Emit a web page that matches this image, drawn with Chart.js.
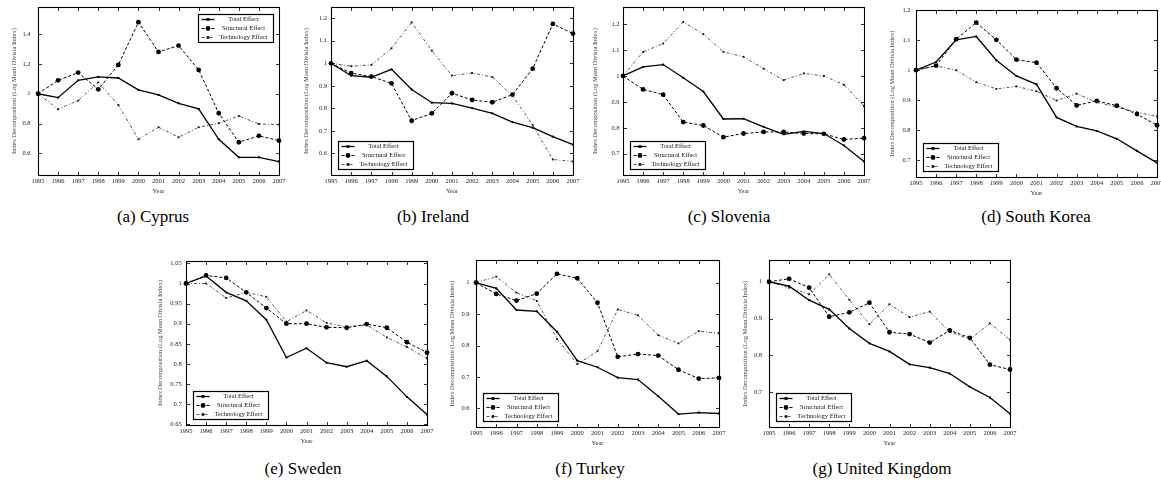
<!DOCTYPE html>
<html><head><meta charset="utf-8">
<script src="https://cdn.jsdelivr.net/npm/chart.js@4.4.0/dist/chart.umd.min.js"></script>
<style>
html,body{margin:0;padding:0;background:#fff;width:1161px;height:483px;overflow:hidden;position:relative}
canvas{position:absolute}
.cap{position:absolute;font-family:"Liberation Serif","DejaVu Serif",serif;font-size:17px;color:#000;white-space:nowrap;transform:translate(-50%,-50%);line-height:1}
</style></head><body>
<script>
// ---------- data ----------
const years = ['1995','1996','1997','1998','1999','2000','2001','2002','2003','2004','2005','2006','2007'];
const seriesNames = ['Total Effect','Structural Effect','Technology Effect'];
const yTitle = 'Index Decomposition (Log Mean Divisia Index)';
const xTitle = 'Year';

const cyprusTotal      = [1.0,0.974,1.09,1.113,1.106,1.026,0.992,0.936,0.898,0.694,0.573,0.573,0.544];
const cyprusStructural = [1.0,1.09,1.142,1.03,1.194,1.481,1.281,1.324,1.16,0.869,0.674,0.717,0.685];
const cyprusTechnology = [1.0,0.896,0.954,1.076,0.925,0.694,0.775,0.708,0.775,0.802,0.851,0.797,0.793];

const irelandTotal      = [1.0,0.945,0.938,0.973,0.884,0.825,0.822,0.801,0.778,0.739,0.714,0.674,0.639];
const irelandStructural = [1.0,0.956,0.941,0.911,0.745,0.778,0.867,0.837,0.827,0.861,0.976,1.175,1.132];
const irelandTechnology = [1.0,0.987,0.993,1.067,1.182,1.056,0.945,0.957,0.939,0.856,0.726,0.573,0.564];

const sloveniaTotal      = [1.0,1.035,1.044,0.993,0.94,0.834,0.835,0.804,0.775,0.786,0.778,0.732,0.67];
const sloveniaStructural = [1.0,0.948,0.928,0.822,0.809,0.764,0.778,0.784,0.784,0.778,0.777,0.755,0.76];
const sloveniaTechnology = [1.0,1.093,1.125,1.208,1.161,1.093,1.074,1.028,0.984,1.01,1.0,0.966,0.884];

const koreaTotal      = [1.0,1.027,1.101,1.112,1.033,0.981,0.953,0.843,0.813,0.798,0.772,0.732,0.692];
const koreaStructural = [1.0,1.015,1.103,1.158,1.101,1.035,1.025,0.94,0.883,0.898,0.882,0.854,0.817];
const koreaTechnology = [1.0,1.014,1.0,0.96,0.938,0.946,0.93,0.899,0.922,0.893,0.877,0.86,0.846];

const swedenTotal      = [1.0,1.019,0.978,0.957,0.91,0.816,0.839,0.803,0.793,0.808,0.769,0.718,0.674];
const swedenStructural = [1.0,1.02,1.014,0.978,0.939,0.9,0.9,0.891,0.89,0.899,0.89,0.854,0.828];
const swedenTechnology = [1.0,1.0,0.964,0.978,0.967,0.905,0.933,0.902,0.892,0.897,0.866,0.842,0.814];

const turkeyTotal      = [1.0,0.982,0.913,0.909,0.844,0.752,0.731,0.698,0.692,0.639,0.582,0.587,0.584];
const turkeyStructural = [1.0,0.964,0.943,0.965,1.028,1.014,0.936,0.764,0.773,0.768,0.723,0.695,0.697];
const turkeyTechnology = [1.0,1.019,0.968,0.942,0.821,0.741,0.782,0.915,0.896,0.833,0.807,0.846,0.839];

const ukTotal      = [1.0,0.988,0.95,0.925,0.873,0.833,0.811,0.776,0.767,0.751,0.715,0.686,0.642];
const ukStructural = [1.0,1.008,0.984,0.905,0.917,0.943,0.863,0.858,0.835,0.868,0.848,0.775,0.762];
const ukTechnology = [1.0,0.984,0.966,1.02,0.951,0.885,0.939,0.904,0.919,0.864,0.844,0.887,0.843];

const cyprusTicks = [0.6,0.8,1,1.2,1.4];
const cyprusTickLabels = ['0.6','0.8','1','1.2','1.4'];
const irelandTicks = [0.6,0.7,0.8,0.9,1,1.1,1.2];
const irelandTickLabels = ['0.6','0.7','0.8','0.9','1','1.1','1.2'];
const sloveniaTicks = [0.7,0.8,0.9,1,1.1,1.2];
const sloveniaTickLabels = ['0.7','0.8','0.9','1','1.1','1.2'];
const koreaTicks = [0.7,0.8,0.9,1,1.1,1.2];
const koreaTickLabels = ['0.7','0.8','0.9','1','1.1','1.2'];
const swedenTicks = [0.65,0.7,0.75,0.8,0.85,0.9,0.95,1,1.05];
const swedenTickLabels = ['0.65','0.7','0.75','0.8','0.85','0.9','0.95','1','1.05'];
const turkeyTicks = [0.6,0.7,0.8,0.9,1];
const turkeyTickLabels = ['0.6','0.7','0.8','0.9','1'];
const ukTicks = [0.7,0.8,0.9,1];
const ukTickLabels = ['0.7','0.8','0.9','1'];

const captions = ['(a) Cyprus','(b) Ireland','(c) Slovenia','(d) South Korea','(e) Sweden','(f) Turkey','(g) United Kingdom'];

// ---------- layout (positions / styles only) ----------
const panels = [
  {cap:0, box:[38,7,279,175],   yr:[0.454,1.583], t:cyprusTotal,   s:cyprusStructural,   k:cyprusTechnology,   tv:cyprusTicks,   tl:cyprusTickLabels,   leg:'tr', yPad:7.5, tOff:24, cx:153, cy:216},
  {cap:1, box:[331,7,573,175],  yr:[0.504,1.25],  t:irelandTotal,  s:irelandStructural,  k:irelandTechnology,  tv:irelandTicks,  tl:irelandTickLabels,  leg:'bl', yPad:4,   tOff:25, cx:433, cy:216},
  {cap:2, box:[623,7,864,175],  yr:[0.618,1.266], t:sloveniaTotal, s:sloveniaStructural, k:sloveniaTechnology, tv:sloveniaTicks, tl:sloveniaTickLabels, leg:'bl', yPad:3.5, tOff:27.5, cx:729, cy:216},
  {cap:3, box:[916,10,1157,177],yr:[0.645,1.2],   t:koreaTotal,    s:koreaStructural,    k:koreaTechnology,    tv:koreaTicks,    tl:koreaTickLabels,    leg:'bl', yPad:5.5, tOff:23.5, cx:1036, cy:216},
  {cap:4, box:[186,261,427,425],yr:[0.648,1.056], t:swedenTotal,   s:swedenStructural,   k:swedenTechnology,   tv:swedenTicks,   tl:swedenTickLabels,   leg:'bl', yPad:4.3, tOff:26, cx:303, cy:468},
  {cap:5, box:[476,260,719,427],yr:[0.541,1.072], t:turkeyTotal,   s:turkeyStructural,   k:turkeyTechnology,   tv:turkeyTicks,   tl:turkeyTickLabels,   leg:'bl', yPad:6.5, tOff:23.5, cx:590, cy:468},
  {cap:6, box:[769,260,1010,427],yr:[0.606,1.059],t:ukTotal,       s:ukStructural,       k:ukTechnology,       tv:ukTicks,       tl:ukTickLabels,       leg:'bl', yPad:7,   tOff:24, cx:882, cy:468}
];

const FONT = '"Liberation Serif","DejaVu Serif",serif';
const YW = 32, XH = 24, PT = 4, PR = 10;

const framePlugin = {
  id: 'frame',
  beforeDatasetsDraw(chart) {
    const {ctx, chartArea: a, scales: {x, y}} = chart;
    ctx.save();
    ctx.strokeStyle = '#000';
    ctx.lineWidth = 1.1;
    const L = Math.round(a.left) + 0.5, T = Math.round(a.top) + 0.5, R = Math.round(a.right) + 0.5, B = Math.round(a.bottom) + 0.5;
    ctx.strokeRect(L, T, R - L, B - T);
    const tk = 3.5;
    ctx.lineWidth = 0.8;
    ctx.beginPath();
    x.ticks.forEach((t, i) => {
      const px = Math.round(x.getPixelForTick(i)) + 0.5;
      ctx.moveTo(px, B); ctx.lineTo(px, B - tk);
      ctx.moveTo(px, T); ctx.lineTo(px, T + tk);
    });
    y.ticks.forEach(t => {
      const py = Math.round(y.getPixelForValue(t.value)) + 0.5;
      ctx.moveTo(L, py); ctx.lineTo(L + tk, py);
      ctx.moveTo(R, py); ctx.lineTo(R - tk, py);
    });
    ctx.stroke();
    ctx.restore();
  },
  afterDraw(chart, args, opts) {
    const {ctx, chartArea: a} = chart;
    const w = 75, h = 28, m = 6.5;
    const bx = Math.round(opts.pos === 'tr' ? a.right - m - w : a.left + m) + 0.5;
    const by = Math.round(opts.pos === 'tr' ? a.top + m : a.bottom - m - h) + 0.5;
    ctx.save();
    ctx.fillStyle = '#fff';
    ctx.fillRect(bx, by, w, h);
    ctx.lineWidth = 1.2;
    ctx.strokeStyle = '#000';
    ctx.strokeRect(bx, by, w, h);
    chart.data.datasets.forEach((ds, i) => {
      const cy = by + 5 + i * 9;
      ctx.setLineDash(ds.borderDash || []);
      ctx.lineWidth = ds.borderWidth;
      ctx.strokeStyle = ds.borderColor;
      ctx.beginPath(); ctx.moveTo(bx + 3, cy); ctx.lineTo(bx + 16, cy); ctx.stroke();
      ctx.setLineDash([]);
      ctx.fillStyle = ds.pointBackgroundColor;
      const r = ds.pointRadius;
      if (ds.pointStyle === 'circle') { ctx.beginPath(); ctx.arc(bx + 9.5, cy, r, 0, Math.PI * 2); ctx.fill(); }
      else { ctx.fillRect(bx + 9.5 - r, cy - r, 2 * r, 2 * r); }
      ctx.fillStyle = '#111';
      ctx.font = '6.5px ' + FONT;
      ctx.textAlign = 'center';
      ctx.textBaseline = 'middle';
      ctx.fillText(ds.label, bx + 45, cy);
    });
    ctx.restore();
  }
};

panels.forEach(p => {
  const [L, T, R, B] = p.box;
  const cv = document.createElement('canvas');
  const W = (R - L) + YW + PR, H = (B - T) + PT + XH;
  cv.width = W; cv.height = H;
  cv.style.left = (L - YW) + 'px';
  cv.style.top = (T - PT) + 'px';
  cv.style.width = W + 'px'; cv.style.height = H + 'px';
  document.body.appendChild(cv);

  const cap = document.createElement('div');
  cap.className = 'cap';
  cap.textContent = captions[p.cap];
  cap.style.left = p.cx + 'px';
  cap.style.top = p.cy + 'px';
  document.body.appendChild(cap);

  const lh = 6.5 * 1.2;
  new Chart(cv, {
    type: 'line',
    data: {
      labels: years,
      datasets: [
        {label: seriesNames[0], data: p.t, borderColor: '#000', borderWidth: 1.3, pointStyle: 'rect', pointRadius: 1.4, pointBackgroundColor: '#000', pointBorderWidth: 0, tension: 0, clip: false},
        {label: seriesNames[1], data: p.s, borderColor: '#000', borderWidth: 1, borderDash: [3, 2], pointStyle: 'circle', pointRadius: 2.4, pointBackgroundColor: '#000', pointBorderWidth: 0, tension: 0, clip: false},
        {label: seriesNames[2], data: p.k, borderColor: '#444', borderWidth: 0.9, borderDash: [3, 2, 1, 2], pointStyle: 'rect', pointRadius: 1.3, pointBackgroundColor: '#111', pointBorderWidth: 0, tension: 0, clip: false}
      ]
    },
    options: {
      responsive: false,
      animation: false,
      devicePixelRatio: 1,
      layout: {padding: {top: PT, right: PR, left: 0, bottom: 0}},
      plugins: {legend: {display: false}, tooltip: {enabled: false}, frame: {pos: p.leg}},
      scales: {
        x: {
          type: 'category',
          offset: false,
          grid: {display: false, drawTicks: false},
          border: {display: false},
          ticks: {font: {family: FONT, size: 6.5}, color: '#222', padding: 2.5, maxRotation: 0, autoSkip: false},
          title: {display: true, text: xTitle, font: {family: FONT, size: 6.5}, color: '#333', padding: {top: 0, bottom: XH - 16 - lh / 2}},
          afterFit: s => { s.height = XH; s.paddingLeft = 0; s.paddingRight = 0; }
        },
        y: {
          min: p.yr[0], max: p.yr[1],
          grid: {display: false, drawTicks: false},
          border: {display: false},
          afterBuildTicks: s => { s.ticks = p.tv.map(v => ({value: v})); },
          ticks: {font: {family: FONT, size: 6.5}, color: '#222', padding: p.yPad, callback: (v, i) => p.tl[i]},
          title: {display: true, text: yTitle, font: {family: FONT, size: 6.5}, color: '#444', padding: {top: YW - p.tOff - lh / 2, bottom: 0}},
          afterFit: s => { s.width = YW; s.paddingTop = 0; s.paddingBottom = 0; }
        }
      }
    },
    plugins: [framePlugin]
  });
});
</script>
</body></html>
